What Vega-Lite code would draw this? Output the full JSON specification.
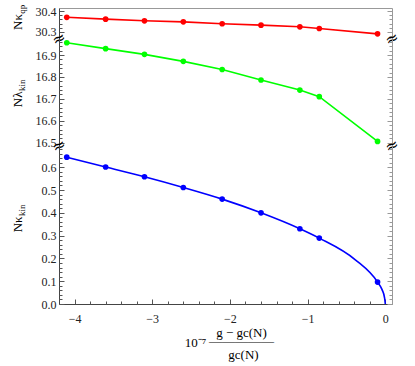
{
  "$schema": "https://vega.github.io/schema/vega-lite/v6.json",
  "padding": {"left": 10, "top": 4, "right": 5, "bottom": 2},
  "spacing": 0,
  "bounds": "flush",
  "datasets": {
    "red": [
      {"x": -4.1, "y": 30.370}, {"x": -3.6, "y": 30.361}, {"x": -3.1, "y": 30.353},
      {"x": -2.6, "y": 30.348}, {"x": -2.1, "y": 30.339}, {"x": -1.6, "y": 30.332},
      {"x": -1.1, "y": 30.324}, {"x": -0.85, "y": 30.316}, {"x": -0.1, "y": 30.290}
    ],
    "green": [
      {"x": -4.1, "y": 16.956}, {"x": -3.6, "y": 16.929}, {"x": -3.1, "y": 16.903},
      {"x": -2.6, "y": 16.871}, {"x": -2.1, "y": 16.834}, {"x": -1.6, "y": 16.786},
      {"x": -1.1, "y": 16.740}, {"x": -0.85, "y": 16.710}, {"x": -0.1, "y": 16.506}
    ],
    "blueDots": [
      {"x": -4.1, "y": 0.644}, {"x": -3.6, "y": 0.601}, {"x": -3.1, "y": 0.558},
      {"x": -2.6, "y": 0.511}, {"x": -2.1, "y": 0.460}, {"x": -1.6, "y": 0.400},
      {"x": -1.1, "y": 0.330}, {"x": -0.85, "y": 0.289}, {"x": -0.1, "y": 0.096}
    ],
    "blueCurve": [
      {"x": -4.1, "y": 0.644}, {"x": -3.6, "y": 0.601}, {"x": -3.1, "y": 0.558},
      {"x": -2.6, "y": 0.511}, {"x": -2.1, "y": 0.460}, {"x": -1.6, "y": 0.400},
      {"x": -1.1, "y": 0.330}, {"x": -0.85, "y": 0.289}, {"x": -0.386, "y": 0.194},
      {"x": -0.1, "y": 0.096}, {"x": -0.042, "y": 0.063}, {"x": -0.009, "y": 0.026},
      {"x": 0, "y": 0}
    ]
  },
  "vconcat": [
    {
      "width": 333,
      "height": 31,
      "layer": [
        {
          "data": {"name": "red"},
          "mark": {"type": "line", "color": "#ff0000", "strokeWidth": 1.6},
          "encoding": {
            "x": {"field": "x", "type": "quantitative", "scale": {"domain": [-4.2, 0.086], "nice": false, "zero": false},
                  "axis": {"orient": "top", "labels": false, "ticks": false, "domainColor": "#999", "title": null}},
            "y": {"field": "y", "type": "quantitative", "scale": {"domain": [30.265, 30.415], "nice": false, "zero": false},
                  "axis": {"orient": "left", "values": [30.3, 30.4], "format": ".1f", "tickSize": -5, "labelPadding": 8,
                           "title": "Nκ", "titleFontSize": 13, "titleBaseline": "alphabetic", "titleAngle": 270,
                           "titleAlign": "center", "titleX": -38, "titleY": 13.5}}
          }
        },
        {
          "data": {"name": "red"},
          "mark": {"type": "point", "filled": true, "size": 32, "color": "#ff0000", "opacity": 1},
          "encoding": {
            "x": {"field": "x", "type": "quantitative", "scale": {"domain": [-4.2, 0.086], "nice": false, "zero": false}, "axis": null},
            "y": {"field": "y", "type": "quantitative", "scale": {"domain": [30.265, 30.415], "nice": false, "zero": false},
                  "axis": {"orient": "left", "values": [30.28, 30.32, 30.34, 30.36, 30.38], "labels": false, "tickSize": -3, "domain": false,
                           "title": "qp", "titleFontSize": 9, "titleBaseline": "alphabetic", "titleAngle": 270,
                           "titleAlign": "center", "titleX": -35, "titleY": 0.8}}
          }
        },
        {
          "data": {"values": [{}]},
          "mark": {"type": "text", "text": "≈", "font": "DejaVu Sans", "fontSize": 16, "angle": -25, "color": "#000"},
          "encoding": {
            "x": {"datum": -4.2, "type": "quantitative", "scale": {"domain": [-4.2, 0.086], "nice": false, "zero": false}, "axis": null},
            "y": {"datum": 30.265, "type": "quantitative", "scale": {"domain": [30.265, 30.415], "nice": false, "zero": false},
                  "axis": {"orient": "right", "values": [30.3, 30.4], "labels": false, "tickSize": -5, "domainColor": "#999", "tickColor": "#999", "title": null}}
          }
        },
        {
          "data": {"values": [{}]},
          "mark": {"type": "text", "text": "≈", "font": "DejaVu Sans", "fontSize": 16, "angle": -25, "color": "#000"},
          "encoding": {
            "x": {"datum": 0.086, "type": "quantitative", "scale": {"domain": [-4.2, 0.086], "nice": false, "zero": false}, "axis": null},
            "y": {"datum": 30.265, "type": "quantitative", "scale": {"domain": [30.265, 30.415], "nice": false, "zero": false},
                  "axis": {"orient": "right", "values": [30.28, 30.32, 30.34, 30.36, 30.38], "labels": false, "tickSize": -3, "domain": false, "tickColor": "#999", "title": null}}
          }
        }
      ],
      "resolve": {"scale": {"x": "independent", "y": "independent"}, "axis": {"x": "independent", "y": "independent"}}
    },
    {
      "width": 333,
      "height": 107,
      "layer": [
        {
          "data": {"name": "green"},
          "mark": {"type": "line", "color": "#00ff00", "strokeWidth": 1.6},
          "encoding": {
            "x": {"field": "x", "type": "quantitative", "scale": {"domain": [-4.2, 0.086], "nice": false, "zero": false}, "axis": null},
            "y": {"field": "y", "type": "quantitative", "scale": {"domain": [16.485, 16.973], "nice": false, "zero": false},
                  "axis": {"orient": "left", "values": [16.5, 16.6, 16.7, 16.8, 16.9], "format": ".1f", "tickSize": -5, "labelPadding": 8,
                           "title": "Nλ", "titleFontSize": 13, "titleBaseline": "alphabetic", "titleAngle": 270,
                           "titleAlign": "center", "titleX": -38, "titleY": 59.8}}
          }
        },
        {
          "data": {"name": "green"},
          "mark": {"type": "point", "filled": true, "size": 32, "color": "#00ff00", "opacity": 1},
          "encoding": {
            "x": {"field": "x", "type": "quantitative", "scale": {"domain": [-4.2, 0.086], "nice": false, "zero": false}, "axis": null},
            "y": {"field": "y", "type": "quantitative", "scale": {"domain": [16.485, 16.973], "nice": false, "zero": false},
                  "axis": {"orient": "left", "values": [16.52, 16.54, 16.56, 16.58, 16.62, 16.64, 16.66, 16.68, 16.72, 16.74, 16.76, 16.78, 16.82, 16.84, 16.86, 16.88, 16.92, 16.94, 16.96],
                           "labels": false, "tickSize": -3, "domain": false,
                           "title": "kin", "titleFontSize": 9, "titleBaseline": "alphabetic", "titleAngle": 270,
                           "titleAlign": "center", "titleX": -35, "titleY": 45.7}}
          }
        },
        {
          "data": {"values": [{}]},
          "mark": {"type": "text", "text": "≈", "font": "DejaVu Sans", "fontSize": 16, "angle": -25, "color": "#000"},
          "encoding": {
            "x": {"datum": -4.2, "type": "quantitative", "scale": {"domain": [-4.2, 0.086], "nice": false, "zero": false}, "axis": null},
            "y": {"datum": 16.485, "type": "quantitative", "scale": {"domain": [16.485, 16.973], "nice": false, "zero": false},
                  "axis": {"orient": "right", "values": [16.5, 16.6, 16.7, 16.8, 16.9], "labels": false, "tickSize": -5, "domainColor": "#999", "tickColor": "#999", "title": null}}
          }
        },
        {
          "data": {"values": [{}]},
          "mark": {"type": "text", "text": "≈", "font": "DejaVu Sans", "fontSize": 16, "angle": -25, "color": "#000"},
          "encoding": {
            "x": {"datum": 0.086, "type": "quantitative", "scale": {"domain": [-4.2, 0.086], "nice": false, "zero": false}, "axis": null},
            "y": {"datum": 16.485, "type": "quantitative", "scale": {"domain": [16.485, 16.973], "nice": false, "zero": false},
                  "axis": {"orient": "right", "values": [16.52, 16.54, 16.56, 16.58, 16.62, 16.64, 16.66, 16.68, 16.72, 16.74, 16.76, 16.78, 16.82, 16.84, 16.86, 16.88, 16.92, 16.94, 16.96],
                           "labels": false, "tickSize": -3, "domain": false, "tickColor": "#999", "title": null}}
          }
        }
      ],
      "resolve": {"scale": {"x": "independent", "y": "independent"}, "axis": {"x": "independent", "y": "independent"}}
    },
    {
      "width": 333,
      "height": 158,
      "layer": [
        {
          "data": {"name": "blueCurve"},
          "mark": {"type": "line", "color": "#0000ff", "strokeWidth": 1.6, "interpolate": "monotone"},
          "encoding": {
            "x": {"field": "x", "type": "quantitative", "scale": {"domain": [-4.2, 0.086], "nice": false, "zero": false},
                  "axis": {"orient": "bottom", "values": [-4, -3, -2, -1, 0], "format": "d", "tickSize": -5, "labelPadding": 14, "labelFlush": false,
                           "title": ["g − gc(N)", "—————"], "titleFontSize": 13, "titleLineHeight": 8.2,
                           "titleX": 182, "titleY": 22.4, "titleBaseline": "top", "titleAlign": "center"}},
            "y": {"field": "y", "type": "quantitative", "scale": {"domain": [0, 0.693], "nice": false, "zero": false},
                  "axis": {"orient": "left", "values": [0, 0.1, 0.2, 0.3, 0.4, 0.5, 0.6], "format": ".1f", "tickSize": -5, "labelPadding": 8,
                           "title": "Nκ", "titleFontSize": 13, "titleBaseline": "alphabetic", "titleAngle": 270,
                           "titleAlign": "center", "titleX": -38, "titleY": 77.8}}
          }
        },
        {
          "data": {"name": "blueDots"},
          "mark": {"type": "point", "filled": true, "size": 32, "color": "#0000ff", "opacity": 1},
          "encoding": {
            "x": {"field": "x", "type": "quantitative", "scale": {"domain": [-4.2, 0.086], "nice": false, "zero": false},
                  "axis": {"orient": "bottom", "values": [-3.8, -3.6, -3.4, -3.2, -2.8, -2.6, -2.4, -2.2, -1.8, -1.6, -1.4, -1.2, -0.8, -0.6, -0.4, -0.2],
                           "labels": false, "tickSize": -3, "domain": false, "title": null}},
            "y": {"field": "y", "type": "quantitative", "scale": {"domain": [0, 0.693], "nice": false, "zero": false},
                  "axis": {"orient": "left", "values": [0.02, 0.04, 0.06, 0.08, 0.12, 0.14, 0.16, 0.18, 0.22, 0.24, 0.26, 0.28, 0.32, 0.34, 0.36, 0.38, 0.42, 0.44, 0.46, 0.48, 0.52, 0.54, 0.56, 0.58, 0.62, 0.64, 0.66, 0.68],
                           "labels": false, "tickSize": -3, "domain": false,
                           "title": "kin", "titleFontSize": 9, "titleBaseline": "alphabetic", "titleAngle": 270,
                           "titleAlign": "center", "titleX": -35, "titleY": 63.7}}
          }
        },
        {
          "data": {"name": "blueDots"},
          "mark": {"type": "point", "filled": true, "size": 32, "color": "#0000ff", "opacity": 0},
          "encoding": {
            "x": {"field": "x", "type": "quantitative", "scale": {"domain": [-4.2, 0.086], "nice": false, "zero": false},
                  "axis": {"orient": "bottom", "labels": false, "ticks": false, "domain": false,
                           "title": "gc(N)", "titleFontSize": 13, "titleX": 184, "titleY": 50.7, "titleBaseline": "middle", "titleAlign": "center"}},
            "y": {"field": "y", "type": "quantitative", "scale": {"domain": [0, 0.693], "nice": false, "zero": false},
                  "axis": {"orient": "right", "values": [0, 0.1, 0.2, 0.3, 0.4, 0.5, 0.6], "labels": false, "tickSize": -5, "domainColor": "#999", "tickColor": "#999", "title": null}}
          }
        },
        {
          "data": {"name": "blueDots"},
          "mark": {"type": "point", "filled": true, "size": 32, "color": "#0000ff", "opacity": 0},
          "encoding": {
            "x": {"field": "x", "type": "quantitative", "scale": {"domain": [-4.2, 0.086], "nice": false, "zero": false},
                  "axis": {"orient": "bottom", "labels": false, "ticks": false, "domain": false,
                           "title": "10⁻⁷", "titleFontSize": 13, "titleX": 136, "titleY": 38.4, "titleBaseline": "middle", "titleAlign": "center"}},
            "y": {"field": "y", "type": "quantitative", "scale": {"domain": [0, 0.693], "nice": false, "zero": false},
                  "axis": {"orient": "right", "values": [0.02, 0.04, 0.06, 0.08, 0.12, 0.14, 0.16, 0.18, 0.22, 0.24, 0.26, 0.28, 0.32, 0.34, 0.36, 0.38, 0.42, 0.44, 0.46, 0.48, 0.52, 0.54, 0.56, 0.58, 0.62, 0.64, 0.66, 0.68],
                           "labels": false, "tickSize": -3, "domain": false, "tickColor": "#999", "title": null}}
          }
        }
      ],
      "resolve": {"scale": {"x": "independent", "y": "independent"}, "axis": {"x": "independent", "y": "independent"}}
    }
  ],
  "resolve": {"scale": {"x": "independent", "y": "independent"}, "axis": {"x": "independent", "y": "independent"}},
  "config": {
    "view": {"stroke": null},
    "font": "Times New Roman, Liberation Serif, serif",
    "axis": {
      "grid": false,
      "labelFont": "Times New Roman, Liberation Serif, serif",
      "titleFont": "Times New Roman, Liberation Serif, serif",
      "labelFontSize": 12,
      "labelColor": "#222",
      "titleColor": "#000",
      "titleFontWeight": "normal",
      "tickColor": "#555",
      "domainColor": "#444",
      "domainWidth": 1,
      "tickWidth": 1
    }
  }
}
